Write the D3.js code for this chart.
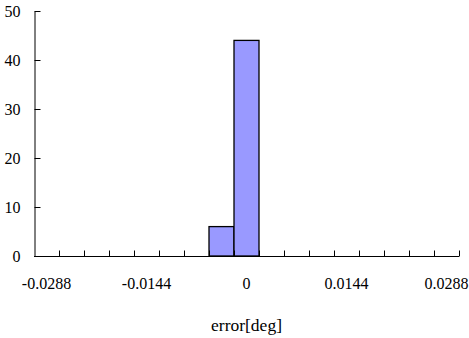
<!DOCTYPE html>
<html>
<head>
<meta charset="utf-8">
<script src="https://cdn.jsdelivr.net/npm/d3@7"></script>
<style>
  body { margin: 0; background: #fff; }
</style>
</head>
<body>
<svg id="chart"></svg>
<script>
// histogram bins (bin centres) and counts
var bins = ["-0.0288", "-0.0252", "-0.0216", "-0.018", "-0.0144", "-0.0108", "-0.0072", "-0.0036",
            "0", "0.0036", "0.0072", "0.0108", "0.0144", "0.018", "0.0216", "0.0252", "0.0288"];
var counts = [0, 0, 0, 0, 0, 0, 0, 6, 44, 0, 0, 0, 0, 0, 0, 0, 0];
var xLabels = ["-0.0288", "-0.0144", "0", "0.0144", "0.0288"];
var yTicks = [0, 10, 20, 30, 40, 50];

var FONT = "'Liberation Serif', 'Times New Roman', Times, serif";
var W = 469, H = 338;
var margin = {top: 11, right: 10, bottom: 82, left: 34};
var width = 425, height = 245;

var svg = d3.select("#chart")
  .attr("width", W)
  .attr("height", H)
  .style("font-family", FONT)
  .append("g")
  .attr("transform", "translate(" + margin.left + "," + margin.top + ")");

var x = d3.scaleBand()
  .domain(bins)
  .range([0, width])
  .padding(0);
var y = d3.scaleLinear()
  .domain([0, 50])
  .range([height, 0]);

// bars
svg.append("g")
  .selectAll(".bar")
  .data(bins.map(function(b, i) { return {bin: b, count: counts[i]}; }).filter(function(d) { return d.count > 0; }))
  .enter().append("rect")
  .attr("class", "bar")
  .attr("x", function(d) { return x(d.bin); })
  .attr("y", function(d) { return y(d.count); })
  .attr("width", x.bandwidth())
  .attr("height", function(d) { return height - y(d.count); })
  .attr("fill", "#9999ff")
  .attr("stroke", "#000")
  .attr("stroke-width", 1.3);

// y axis
var yAxis = d3.axisLeft(y)
  .tickValues(yTicks)
  .tickSizeInner(-6)
  .tickSizeOuter(0)
  .tickPadding(14);
var gy = svg.append("g").attr("transform", "translate(0.5,0)").call(yAxis);
gy.attr("font-family", null);
gy.selectAll("text")
  .style("font-family", FONT)
  .style("font-size", "16px")
  .attr("dy", "0.35em");

// x axis: ticks on bin boundaries, labels on every 4th bin centre
var gx = svg.append("g").attr("transform", "translate(0," + (height + 0.5) + ")");
gx.append("line")
  .attr("x1", 0).attr("x2", width)
  .attr("stroke", "#000");
var bounds = bins.map(function(b) { return x(b); }).concat([width]);
gx.selectAll(".xt")
  .data(bounds.slice(1))
  .enter().append("line")
  .attr("class", "xt")
  .attr("x1", function(d) { return Math.round(d) + 0.5; })
  .attr("x2", function(d) { return Math.round(d) + 0.5; })
  .attr("y1", 0).attr("y2", -6)
  .attr("stroke", "#000");
gx.selectAll(".xl")
  .data(xLabels)
  .enter().append("text")
  .attr("class", "xl")
  .attr("x", function(d) { return x(d) + x.bandwidth() / 2; })
  .attr("y", 32)
  .attr("text-anchor", "middle")
  .style("font-family", FONT)
  .style("font-size", "16px")
  .text(function(d) { return d; });

// x title
svg.append("text")
  .attr("x", width / 2)
  .attr("y", 320)
  .attr("text-anchor", "middle")
  .style("font-family", FONT)
  .style("font-size", "17.5px")
  .text("error[deg]");
</script>
</body>
</html>
